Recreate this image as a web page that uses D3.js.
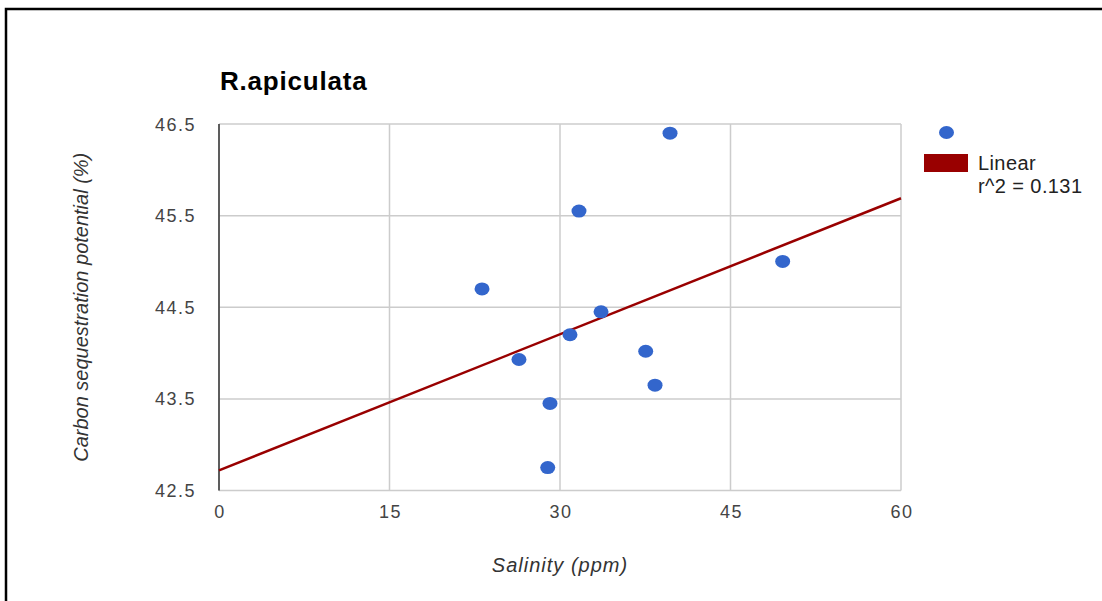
<!DOCTYPE html>
<html>
<head>
<meta charset="utf-8">
<script src="https://cdn.jsdelivr.net/npm/d3@7"></script>
<style>
  body { margin: 0; background: #fff; }
  svg text { font-family: Arial, 'Liberation Sans', sans-serif; }
</style>
</head>
<body>
<div id="chart"></div>
<script>
// salinity (ppm) vs carbon sequestration potential (%)
const salinity = [39.68, 31.67, 49.59, 23.14, 33.61, 30.88, 26.39, 37.54, 38.36, 29.12, 28.92];
const carbon = [46.40, 45.55, 45.00, 44.70, 44.45, 44.20, 43.93, 44.02, 43.65, 43.45, 42.75];
// linear trendline
const trendX = [0, 60];
const trendY = [42.72, 45.69];
const xTicks = [0, 15, 30, 45, 60];
const yTicks = [42.5, 43.5, 44.5, 45.5, 46.5];
const r2 = '0.131';

const W = 1102, H = 601;
const margin = { top: 124, right: 201, bottom: 110.5, left: 219 };

const svg = d3.select('#chart').append('svg').attr('width', W).attr('height', H);

// frame
svg.append('path').attr('d', `M6,${H + 5} L6,9 L${W + 5},9`).attr('fill', 'none').attr('stroke', '#000').attr('stroke-width', 2.5);

const x = d3.scaleLinear().domain([0, 60]).range([margin.left, W - margin.right]);
const y = d3.scaleLinear().domain([42.5, 46.5]).range([H - margin.bottom, margin.top]);

// grid
svg.append('g').selectAll('line').data(xTicks).join('line')
    .attr('x1', d => x(d)).attr('x2', d => x(d)).attr('y1', y(46.5)).attr('y2', y(42.5))
    .attr('stroke', '#ccc').attr('stroke-width', 1.5);
svg.append('g').selectAll('line').data(yTicks).join('line')
    .attr('x1', x(0)).attr('x2', x(60)).attr('y1', d => y(d)).attr('y2', d => y(d))
    .attr('stroke', '#ccc').attr('stroke-width', 1.5);
svg.append('line').attr('x1', x(0)).attr('x2', x(0)).attr('y1', y(46.5)).attr('y2', y(42.5))
    .attr('stroke', '#333').attr('stroke-width', 1.5);

// tick labels
svg.append('g').selectAll('text').data(yTicks).join('text')
    .attr('x', x(0) - 23).attr('y', d => y(d) + 6.5).attr('text-anchor', 'end')
    .style('font-size', '18px').style('letter-spacing', '1.5px').attr('fill', '#444').text(d => d3.format('.1f')(d));
svg.append('g').selectAll('text').data(xTicks).join('text')
    .attr('x', d => x(d) + 1).attr('y', 518).attr('text-anchor', 'middle')
    .style('font-size', '18px').style('letter-spacing', '1.5px').attr('fill', '#444').text(d => d);

// titles
svg.append('text').attr('x', 220).attr('y', 90).style('font-size', '26px').style('font-weight', 'bold').style('letter-spacing', '0.8px').attr('fill', '#000').text('R.apiculata');
svg.append('text').attr('x', (x(0) + x(60)) / 2).attr('y', 572).attr('text-anchor', 'middle')
    .style('font-size', '20px').style('font-style', 'italic').style('letter-spacing', '1px').attr('fill', '#333').text('Salinity (ppm)');
svg.append('text').attr('transform', `translate(88,${(y(42.5) + y(46.5)) / 2}) rotate(-90)`).attr('text-anchor', 'middle')
    .style('font-size', '20px').style('font-style', 'italic').attr('fill', '#333').text('Carbon sequestration potential (%)');

// trendline
const line = d3.line().x(d => x(d[0])).y(d => y(d[1]));
svg.append('path').datum(d3.zip(trendX, trendY)).attr('fill', 'none').attr('stroke', '#990000').attr('stroke-width', 2.5).attr('d', line);

// points
svg.append('g').selectAll('ellipse').data(d3.zip(salinity, carbon)).join('ellipse')
    .attr('cx', d => x(d[0])).attr('cy', d => y(d[1])).attr('rx', 7.5).attr('ry', 6.5).attr('fill', '#3366cc');

// legend
svg.append('ellipse').attr('cx', 946.5).attr('cy', 132.5).attr('rx', 7.5).attr('ry', 6.5).attr('fill', '#3366cc');
svg.append('rect').attr('x', 924).attr('y', 154).attr('width', 44).attr('height', 18).attr('fill', '#990000');
svg.append('text').attr('x', 978).attr('y', 170).style('font-size', '20px').style('letter-spacing', '0.4px').attr('fill', '#222').text('Linear');
svg.append('text').attr('x', 978).attr('y', 193).style('font-size', '20px').style('letter-spacing', '0.4px').attr('fill', '#222').text('r^2 = ' + r2);
</script>
</body>
</html>
